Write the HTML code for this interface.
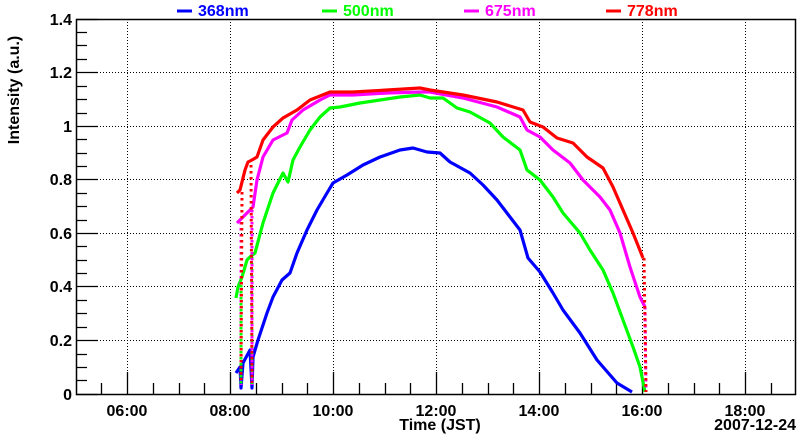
<!DOCTYPE html>
<html><head><meta charset="utf-8"><style>
html,body{margin:0;padding:0;background:#fff}
svg{display:block}
text{font-family:"Liberation Sans",sans-serif;font-weight:bold}
</style></head><body>
<svg width="800" height="434" viewBox="0 0 800 434" xmlns="http://www.w3.org/2000/svg">
<rect width="800" height="434" fill="#fff"/>
<g stroke="#000" stroke-width="1" stroke-dasharray="1,2">
<line x1="127.5" y1="19" x2="127.5" y2="394"/>
<line x1="230.5" y1="19" x2="230.5" y2="394"/>
<line x1="333.5" y1="19" x2="333.5" y2="394"/>
<line x1="436.5" y1="19" x2="436.5" y2="394"/>
<line x1="539.5" y1="19" x2="539.5" y2="394"/>
<line x1="642.5" y1="19" x2="642.5" y2="394"/>
<line x1="745.5" y1="19" x2="745.5" y2="394"/>
<line x1="76" y1="340.5" x2="796" y2="340.5"/>
<line x1="76" y1="286.5" x2="796" y2="286.5"/>
<line x1="76" y1="233.5" x2="796" y2="233.5"/>
<line x1="76" y1="179.5" x2="796" y2="179.5"/>
<line x1="76" y1="126.5" x2="796" y2="126.5"/>
<line x1="76" y1="72.5" x2="796" y2="72.5"/>
</g>
<g stroke="#000" stroke-width="1.3">
<path d="M76,394.5h22M76,380.5h11M76,367.5h11M76,354.5h11M76,340.5h22M76,327.5h11M76,313.5h11M76,300.5h11M76,286.5h22M76,273.5h11M76,260.5h11M76,246.5h11M76,233.5h22M76,220.5h11M76,206.5h11M76,193.5h11M76,179.5h22M76,166.5h11M76,153.5h11M76,139.5h11M76,126.5h22M76,113.5h11M76,99.5h11M76,86.5h11M76,72.5h22M76,59.5h11M76,45.5h11M76,32.5h11M76,19.5h22"/>
<path d="M101.5,394v-11M127.5,394v-22M153.5,394v-11M179.5,394v-11M204.5,394v-11M230.5,394v-22M256.5,394v-11M282.5,394v-11M307.5,394v-11M333.5,394v-22M359.5,394v-11M385.5,394v-11M410.5,394v-11M436.5,394v-22M462.5,394v-11M488.5,394v-11M513.5,394v-11M539.5,394v-22M565.5,394v-11M591.5,394v-11M616.5,394v-11M642.5,394v-22M668.5,394v-11M694.5,394v-11M719.5,394v-11M745.5,394v-22M771.5,394v-11"/>
</g>
<rect x="76.5" y="19.5" width="719" height="375" fill="none" stroke="#000" stroke-width="1.5"/>
<g fill="none" stroke-width="3.2" stroke-linejoin="round">
<path stroke="#00f" d="M236,373 L240,367 L241,388 L243,363 L250,350 L252,388 L253,357 L258,340 L267,313 L273,297 L282,280 L290,273 L297,253 L307,230 L317,210 L327,193 L333,183 L347,175 L363,165 L380,157 L400,150 L413,148 L427,152 L440,153 L450,162 L470,173 L483,185 L497,200 L510,217 L520,230 L528,258 L540,272 L553,293 L563,310 L580,333 L597,360 L617,383 L632,392"/>
<path stroke="#0f0" d="M236,298 L238,287 L242,277 L247,260 L250,257 L255,253 L263,223 L273,193 L283,173 L288,182 L293,160 L300,147 L310,130 L320,117 L330,108 L340,107 L360,103 L380,100 L400,97 L420,95 L430,98 L443,98 L457,108 L470,112 L490,123 L503,137 L520,150 L527,170 L540,180 L553,197 L563,213 L580,233 L590,250 L603,270 L613,293 L623,320 L633,347 L640,367 L645,392"/>
<path stroke="#f0f" d="M237,223 L240,220 L245,215 L250,210 L253,207 L257,180 L263,157 L273,140 L287,133 L292,120 L303,110 L320,100 L330,95 L353,95 L387,93 L420,92 L430,92 L463,98 L497,107 L520,117 L527,130 L540,137 L553,150 L570,163 L583,180 L600,197 L610,210 L620,233 L630,267 L640,297 L645,307"/>
<path stroke="#f00" d="M237,193 L240,190 L245,170 L248,162 L252,160 L257,157 L263,140 L273,127 L283,118 L297,110 L310,100 L330,92 L353,92 L387,90 L420,88 L430,90 L463,95 L497,102 L523,110 L530,122 L543,127 L557,138 L573,143 L587,157 L603,168 L613,187 L623,210 L633,233 L643,258"/>
</g>
<g fill="none" stroke-width="3" stroke-dasharray="2.5,3.5">
<path stroke="#0f0" d="M241,285 L241,385 M252,257 L252,385"/>
<path stroke="#f0f" d="M241,222 L241,385 M252,210 L252,385 M645,307 L646,392"/>
<path stroke="#f00" d="M242,192 L241,380 M251,165 L252,383 M644,258 L646,392"/>
</g>
<g font-size="16" fill="#000" text-anchor="end">
<text x="72" y="400">0</text>
<text x="72" y="346">0.2</text>
<text x="72" y="292">0.4</text>
<text x="72" y="239">0.6</text>
<text x="72" y="185">0.8</text>
<text x="72" y="132">1</text>
<text x="72" y="78">1.2</text>
<text x="72" y="25">1.4</text>
</g>
<g font-size="16" fill="#000" text-anchor="middle">
<text x="127" y="416">06:00</text>
<text x="230" y="416">08:00</text>
<text x="333" y="416">10:00</text>
<text x="436" y="416">12:00</text>
<text x="539" y="416">14:00</text>
<text x="642" y="416">16:00</text>
<text x="745" y="416">18:00</text>
</g>
<text x="796" y="430" font-size="16" text-anchor="end">2007-12-24</text>
<text x="796" y="430" font-size="0"> </text>
<text x="440" y="430" font-size="16" text-anchor="middle" fill="#000">Time (JST)</text>
<text transform="translate(19,90) rotate(-90)" font-size="16" text-anchor="middle">Intensity (a.u.)</text>
<g font-size="16">
<line x1="177" y1="11" x2="192" y2="11" stroke="#00f" stroke-width="3"/>
<text x="198" y="16" fill="#00f">368nm</text>
<line x1="322" y1="11" x2="337" y2="11" stroke="#0f0" stroke-width="3"/>
<text x="343" y="16" fill="#0f0">500nm</text>
<line x1="464" y1="11" x2="479" y2="11" stroke="#f0f" stroke-width="3"/>
<text x="485" y="16" fill="#f0f">675nm</text>
<line x1="606" y1="11" x2="621" y2="11" stroke="#f00" stroke-width="3"/>
<text x="627" y="16" fill="#f00">778nm</text>
</g>
</svg>
</body></html>
